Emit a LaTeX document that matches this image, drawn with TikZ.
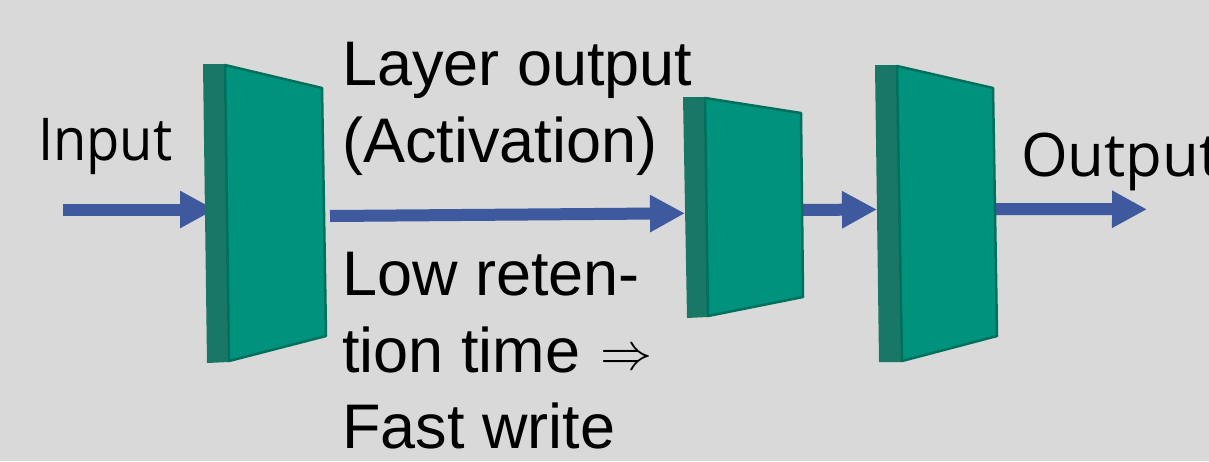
\documentclass[tikz,border=0pt]{standalone}
\usepackage{fix-cm}
\usepackage{fontspec}
\setmainfont{Liberation Sans}
\newfontfamily\labelfont[FakeStretch=0.92]{Open Sans}
\newfontfamily\widelabelfont{Open Sans}
\usetikzlibrary{arrows.meta}
\definecolor{bg}{RGB}{217,217,217}
\definecolor{slabfront}{RGB}{0,146,124}
\definecolor{slabside}{RGB}{24,119,101}
\definecolor{slabedge}{RGB}{0,112,94}
\definecolor{flow}{RGB}{62,89,158}
\begin{document}
\begin{tikzpicture}[x=1pt,y=-1pt,
  flowarrow/.style={draw=flow, line width=12pt, -{Triangle[length=35pt,width=35pt]}},
  slabside/.style={fill=slabside},
  slabfront/.style={fill=slabfront, draw=slabedge, line width=2.5pt, line join=round},
  caption/.style={anchor=base west, inner sep=0pt, font=\fontsize{63}{76}\selectfont},
  tag/.style={anchor=base west, inner sep=0pt, font=\labelfont\fontsize{59}{70}\selectfont},
  widetag/.style={anchor=base west, inner sep=0pt, font=\widelabelfont\fontsize{60}{70}\selectfont}]
\fill[bg] (0,0) rectangle (1209,461);
\useasboundingbox (0,0) rectangle (1209,461);
\clip (0,0) rectangle (1209,461);

% connection points of the data flow
\coordinate (inStart) at (63,209.5);
\coordinate (s1in)    at (215,209.5);
\coordinate (s1out)   at (330,216);
\coordinate (s2in)    at (685,213.3);
\coordinate (s2out)   at (800,210);
\coordinate (s3in)    at (877,209.5);
\coordinate (s3out)   at (995,209);
\coordinate (outEnd)  at (1147,209.3);

% arrows (drawn first, slabs cover their ends)
\draw[flowarrow] (inStart) -- (s1in);
\draw[flowarrow] (s1out) -- (s2in);
\draw[flowarrow] (s2out) -- (s3in);
\draw[flowarrow] (s3out) -- (outEnd);

% layer 1
\fill[slabside] (203,64) -- (225,64) -- (229,362) -- (207,363) -- cycle;
\filldraw[slabfront] (225,65) -- (322,88) -- (326,336) -- (229,361) -- cycle;
% layer 2
\fill[slabside] (683,97) -- (705,97) -- (708,317) -- (687,318) -- cycle;
\filldraw[slabfront] (705,98) -- (801,113) -- (803,297) -- (708,316) -- cycle;
% layer 3
\fill[slabside] (875,65) -- (897,65) -- (902,362) -- (879,362) -- cycle;
\filldraw[slabfront] (897,66) -- (993,88) -- (997,336) -- (902,361) -- cycle;

% labels
\node[tag] (input) at (38,160) {Input};
\node[widetag] (output) at (1021,176.5) {Output};
\node[caption] (act1) at (342,85) {Layer output};
\node[caption] (act2) at (342,162) {(Activation)};
\node[caption] (ret1) at (342,295) {Low reten-};
\node[caption] (ret2) at (342,372) {tion time\hspace{20pt}\raisebox{3pt}{\fontsize{52}{60}\selectfont$\Rightarrow$}};
\node[caption] (ret3) at (342,448) {Fast write};
\end{tikzpicture}
\end{document}
